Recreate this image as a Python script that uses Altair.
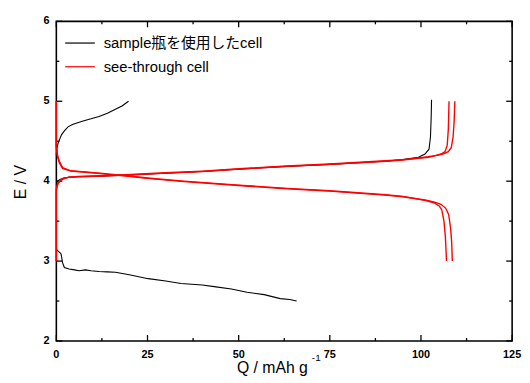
import altair as alt
import pandas as pd

# ---- data ----
series_names = ["sample瓶を使用したcell", "see-through cell"]
series_colors = ["#000000", "#ff0000"]

# sample cell (black)
black_a_q = [0, 0.1, 0.4, 0.8, 1.4, 2.2, 3.2, 4.4, 7.1, 9.5, 11.7, 14, 16.2, 18, 19.8]
black_a_e = [4.33, 4.40, 4.46, 4.51, 4.58, 4.63, 4.68, 4.71, 4.75, 4.78, 4.81, 4.85, 4.90, 4.94, 5.00]

black_b_q = [0, 0.3, 1, 2, 3.5, 6, 10, 19, 30, 40, 50, 63.2, 75, 90.3, 95, 99.3, 101.1, 102.2, 102.6, 102.8, 102.9]
black_b_e = [3.95, 4.00, 4.02, 4.04, 4.05, 4.055, 4.06, 4.075, 4.10, 4.12, 4.15, 4.185, 4.21, 4.25, 4.27, 4.30, 4.34, 4.40, 4.55, 4.80, 5.02]

black_c_q = [0, 0.35, 0.9, 1.3, 1.7, 2.2, 3.5, 5, 6.2, 8.0, 9.5, 11.7, 14, 16.2, 20, 25.2, 30, 34.2, 40, 43.3, 48, 52.3, 57, 61.4, 64, 65.9]
black_c_e = [3.15, 3.13, 3.11, 3.09, 2.98, 2.92, 2.90, 2.89, 2.88, 2.89, 2.88, 2.87, 2.865, 2.86, 2.83, 2.78, 2.75, 2.72, 2.70, 2.68, 2.65, 2.61, 2.58, 2.53, 2.52, 2.50]

# see-through cell (red)
red_c1_q = [0, 0, 0.2, 0.5, 1, 2, 3.5, 6, 10, 19, 30, 40, 50, 63.2, 75, 90.3, 95, 99.3, 102, 104, 105.5, 106.6, 107.2, 107.5, 107.7]
red_c1_e = [3.00, 3.88, 3.93, 3.97, 4.00, 4.03, 4.05, 4.055, 4.06, 4.075, 4.10, 4.12, 4.15, 4.185, 4.21, 4.25, 4.265, 4.285, 4.30, 4.32, 4.34, 4.37, 4.45, 4.65, 5.00]

red_c2_q = [0, 0, 0.2, 0.5, 1, 2, 3.5, 6, 10, 19, 30, 40, 50, 63.2, 75, 90.3, 95, 99.3, 102, 104, 106, 107.5, 108.3, 108.8, 109.1, 109.3]
red_c2_e = [3.00, 3.90, 3.95, 3.98, 4.01, 4.035, 4.05, 4.06, 4.065, 4.08, 4.105, 4.125, 4.155, 4.19, 4.215, 4.255, 4.27, 4.29, 4.305, 4.32, 4.34, 4.37, 4.42, 4.55, 4.75, 5.00]

red_d1_q = [0, 0, 0.3, 0.8, 1.7, 4, 7.1, 12, 16.2, 19, 25, 35, 50, 63.2, 75, 90.3, 95, 101.1, 103.5, 105, 105.7, 106.3, 106.7, 107.0]
red_d1_e = [5.00, 4.45, 4.33, 4.25, 4.17, 4.13, 4.12, 4.10, 4.08, 4.07, 4.04, 4.00, 3.95, 3.91, 3.88, 3.83, 3.81, 3.76, 3.73, 3.69, 3.64, 3.50, 3.30, 3.00]

red_d2_q = [0, 0, 0.3, 0.8, 1.7, 4, 7.1, 12, 16.2, 19, 25, 35, 50, 63.2, 75, 90.3, 95, 101.1, 103.5, 105.5, 106.8, 107.6, 108.1, 108.4, 108.6]
red_d2_e = [5.00, 4.42, 4.31, 4.23, 4.16, 4.125, 4.115, 4.095, 4.075, 4.065, 4.035, 3.995, 3.945, 3.905, 3.875, 3.825, 3.805, 3.765, 3.74, 3.71, 3.66, 3.58, 3.42, 3.25, 3.00]

x_major = [0, 25, 50, 75, 100, 125]
x_minor = [12.5, 37.5, 62.5, 87.5, 112.5]
y_major = [2, 3, 4, 5, 6]
y_minor = [2.5, 3.5, 4.5, 5.5]
x_tick_labels = ["0", "25", "50", "75", "100", "125"]
y_tick_labels = ["2", "3", "4", "5", "6"]

# ---- build table ----
curves = [
    ("ba", series_names[0], black_a_q, black_a_e),
    ("bb", series_names[0], black_b_q, black_b_e),
    ("bc", series_names[0], black_c_q, black_c_e),
    ("rc1", series_names[1], red_c1_q, red_c1_e),
    ("rc2", series_names[1], red_c2_q, red_c2_e),
    ("rd1", series_names[1], red_d1_q, red_d1_e),
    ("rd2", series_names[1], red_d2_q, red_d2_e),
]
rows = []
for cid, sname, qs, es in curves:
    for i, (q, e) in enumerate(zip(qs, es)):
        rows.append({"curve": cid, "series": sname, "Q": q, "E": e, "idx": i})
df = pd.DataFrame(rows)

W, H = 462, 324
MAJ, MIN = 6, 3
FONT = "Liberation Sans, Arial, Noto Sans CJK JP, sans-serif"

xscale = alt.Scale(domain=[0, 125], nice=False, zero=False)
yscale = alt.Scale(domain=[2, 6], nice=False, zero=False)
color = alt.Color(
    "series:N",
    scale=alt.Scale(domain=series_names, range=series_colors),
    legend=alt.Legend(
        orient="none", legendX=8, legendY=6, title=None,
        symbolType="stroke", symbolSize=900, symbolStrokeWidth=1.2,
        labelFont=FONT, labelFontSize=15, labelColor="black", labelLimit=400,
        labelOffset=8, rowPadding=-13,
    ),
)

base = alt.Chart(df)

black_layer = base.transform_filter(alt.datum.series == series_names[0]).mark_line(
    strokeWidth=1.1).encode(
    x=alt.X("Q:Q", scale=xscale, axis=None),
    y=alt.Y("E:Q", scale=yscale, axis=None),
    color=color, detail="curve:N", order="idx:Q")
red_layer = base.transform_filter(alt.datum.series == series_names[1]).mark_line(
    strokeWidth=1.4).encode(
    x=alt.X("Q:Q", scale=xscale, axis=None),
    y=alt.Y("E:Q", scale=yscale, axis=None),
    color=color, detail="curve:N", order="idx:Q")

# inward frame ticks and tick labels, placed through the shared scales
xt_major = pd.DataFrame({"v": x_major})
xt_minor = pd.DataFrame({"v": x_minor})
yt_major = pd.DataFrame({"v": y_major})
yt_minor = pd.DataFrame({"v": y_minor})
xl_df = pd.DataFrame({"pos": x_major, "lab": x_tick_labels})
yl_df = pd.DataFrame({"pos": y_major, "lab": y_tick_labels})


def xticks(d, size):
    xe = alt.X("v:Q", scale=xscale, axis=None)
    bot = alt.Chart(d).mark_rule(color="black", strokeWidth=1.3).encode(
        x=xe, y=alt.value(H), y2=alt.value(H - size))
    top = alt.Chart(d).mark_rule(color="black", strokeWidth=1.3).encode(
        x=xe, y=alt.value(0), y2=alt.value(size))
    return [bot, top]


def yticks(d, size):
    ye = alt.Y("v:Q", scale=yscale, axis=None)
    left = alt.Chart(d).mark_rule(color="black", strokeWidth=1.3).encode(
        y=ye, x=alt.value(0), x2=alt.value(size))
    right = alt.Chart(d).mark_rule(color="black", strokeWidth=1.3).encode(
        y=ye, x=alt.value(W), x2=alt.value(W - size))
    return [left, right]


tick_layers = xticks(xt_major, MAJ) + xticks(xt_minor, MIN) + yticks(yt_major, MAJ) + yticks(yt_minor, MIN)

x_labels = alt.Chart(xl_df).mark_text(
    font=FONT, fontSize=11, fontWeight="bold", color="black", align="center", baseline="top"
).encode(x=alt.X("pos:Q", scale=xscale, axis=None), y=alt.value(H + 8), text="lab:N")
y_labels = alt.Chart(yl_df).mark_text(
    font=FONT, fontSize=11, fontWeight="bold", color="black", align="right", baseline="middle"
).encode(y=alt.Y("pos:Q", scale=yscale, axis=None), x=alt.value(-7), text="lab:N")

title_data = pd.DataFrame({"t": [0]})
xt = alt.Chart(title_data).mark_text(
    text="Q  /  mAh g", font=FONT, fontSize=16, align="left", baseline="alphabetic", color="black"
).encode(x=alt.value(183), y=alt.value(356))
xt_sup = alt.Chart(title_data).mark_text(
    text="-1", font=FONT, fontSize=10, align="left", baseline="alphabetic", color="black"
).encode(x=alt.value(259), y=alt.value(344))
yt = alt.Chart(title_data).mark_text(
    text="E  /  V", font=FONT, fontSize=16, align="center", baseline="middle", angle=270, color="black"
).encode(x=alt.value(-36), y=alt.value(163))

chart = alt.layer(*tick_layers, black_layer, red_layer, x_labels, y_labels, xt, xt_sup, yt).properties(
    width=W, height=H, autosize="none",
    padding={"left": 49, "top": 11, "right": 10, "bottom": 36},
    background="white",
).configure_view(stroke="black", strokeWidth=1.6)

chart.save("out.html", embed_options={"renderer": "svg", "actions": False})
